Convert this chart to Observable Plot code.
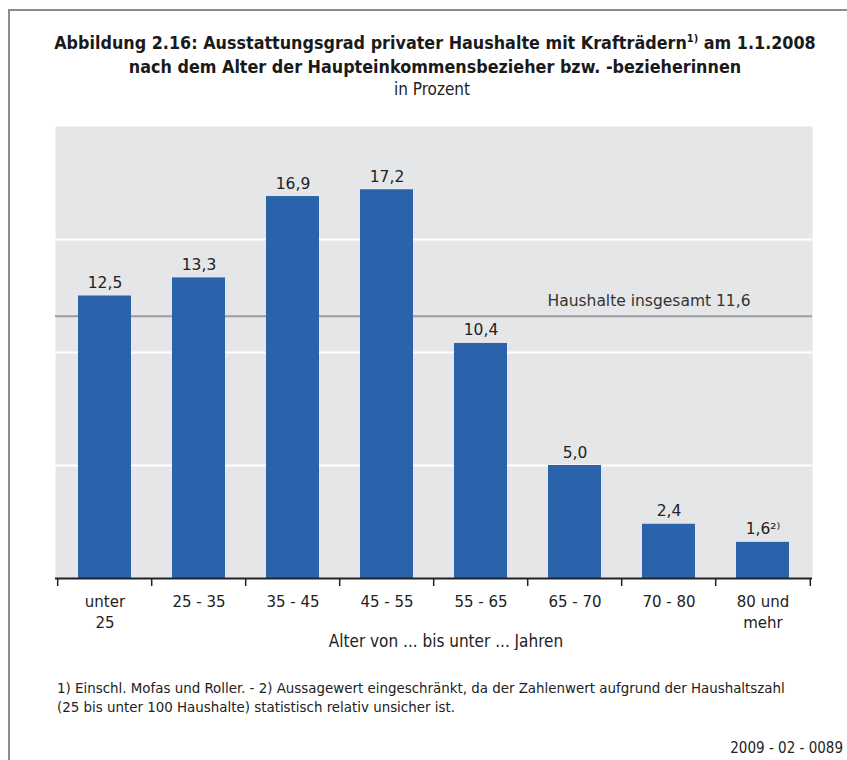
<!DOCTYPE html>
<html><head><meta charset="utf-8">
<script src="https://cdn.jsdelivr.net/npm/d3@7"></script>
<script src="https://cdn.jsdelivr.net/npm/@observablehq/plot@0.6"></script>
<style>
body{margin:0;background:#fff;}
#wrap{position:relative;width:847px;height:760px;overflow:hidden;font-family:"DejaVu Sans";color:#222;}
#ftop{position:absolute;left:8px;top:9px;width:839px;height:0;border-top:2px solid #8c8c8c;}
#fleft{position:absolute;left:8px;top:9px;width:0;height:751px;border-left:2px solid #8c8c8c;}
#title{position:absolute;left:0;width:870px;top:31px;text-align:center;font-family:"DejaVu Sans Condensed";font-weight:bold;font-size:17.8px;line-height:24px;color:#1a1a1a;}
#title sup{font-size:11px;vertical-align:7px;line-height:0;}
#sub{position:absolute;left:0;width:864px;top:79px;text-align:center;font-family:"DejaVu Sans Condensed";font-size:17px;color:#222;}
#chart{position:absolute;left:0;top:110px;}
#foot{position:absolute;left:57px;top:679px;font-family:"DejaVu Sans Condensed";font-size:14.9px;line-height:19px;color:#222;}
#code{position:absolute;right:4px;top:739px;font-family:"DejaVu Sans Condensed";font-size:15px;color:#222;}
</style></head>
<body><div id="wrap">
<div id="ftop"></div><div id="fleft"></div>
<div id="title">Abbildung 2.16: Ausstattungsgrad privater Haushalte mit Krafträdern<sup>1)</sup> am 1.1.2008<br>nach dem Alter der Haupteinkommensbezieher bzw. -bezieherinnen</div>
<div id="sub">in Prozent</div>
<div id="chart"></div>
<div id="foot">1) Einschl. Mofas und Roller. - 2) Aussagewert eingeschränkt, da der Zahlenwert aufgrund der Haushaltszahl<br>(25 bis unter 100 Haushalte) statistisch relativ unsicher ist.</div>
<div id="code">2009 - 02 - 0089</div>
</div>
<script>
const categories = ["unter 25", "25 - 35", "35 - 45", "45 - 55", "55 - 65", "65 - 70", "70 - 80", "80 und mehr"];
const tickLabels = ["unter\n25", "25 - 35", "35 - 45", "45 - 55", "55 - 65", "65 - 70", "70 - 80", "80 und\nmehr"];
const values = [12.5, 13.3, 16.9, 17.2, 10.4, 5.0, 2.4, 1.6];
const valueNotes = ["", "", "", "", "", "", "", "²⁾"];
const gridValues = [5, 10, 15];
const totalValue = 11.6;
const totalLabel = "Haushalte insgesamt 11,6";
const axisTitle = "Alter von ... bis unter ... Jahren";

const fmt = v => v.toFixed(1).replace(".", ",");
const data = categories.map((c, i) => ({cat: c, value: values[i], label: fmt(values[i]) + valueNotes[i]}));

const W = 847, ML = 55, MR = 35;
const step = (W - ML - MR) / categories.length;

const chart = Plot.plot({
  width: W, height: 540,
  marginTop: 16, marginBottom: 72, marginLeft: ML, marginRight: MR,
  style: {fontFamily: "DejaVu Sans", color: "#222"},
  x: {type: "band", domain: categories, paddingInner: 0.44, paddingOuter: 0.22, axis: null},
  y: {domain: [0, 20], axis: null},
  marks: [
    Plot.frame({fill: "#e5e6e8", stroke: "none"}),
    Plot.ruleY(gridValues, {stroke: "#ffffff", strokeWidth: 2}),
    Plot.ruleY([totalValue], {stroke: "#9d9d9d", strokeWidth: 2}),
    Plot.text([totalLabel], {x: () => "70 - 80", y: () => totalValue, text: d => d, dx: -20, dy: -10, lineAnchor: "bottom", fontSize: 15.5, fill: "#333"}),
    Plot.barY(data, {x: "cat", y: "value", fill: "#2a62ab"}),
    Plot.text(data, {x: "cat", y: "value", text: "label", dy: -8, lineAnchor: "bottom", fontSize: 15.5, fill: "#222"}),
    Plot.ruleY([0], {stroke: "#222", strokeWidth: 2}),
    Plot.ruleX(categories, {x: d => d, y1: () => 0, y2: () => 0, insetBottom: -8, dx: -step / 2, stroke: "#222", strokeWidth: 1.5}),
    Plot.ruleX(categories.slice(-1), {x: d => d, y1: () => 0, y2: () => 0, insetBottom: -8, dx: step / 2, stroke: "#222", strokeWidth: 1.5}),
    Plot.text(categories, {x: d => d, y: () => 0, text: tickLabels, dy: 14, lineAnchor: "top", lineHeight: 1.4, fontSize: 15, fill: "#222"}),
    Plot.text([axisTitle], {frameAnchor: "bottom", text: d => d, dx: 12, dy: 56, lineAnchor: "top", fontSize: 17, fontFamily: "DejaVu Sans Condensed", fill: "#222"})
  ]
});
document.getElementById("chart").appendChild(chart);
</script>
</body></html>
